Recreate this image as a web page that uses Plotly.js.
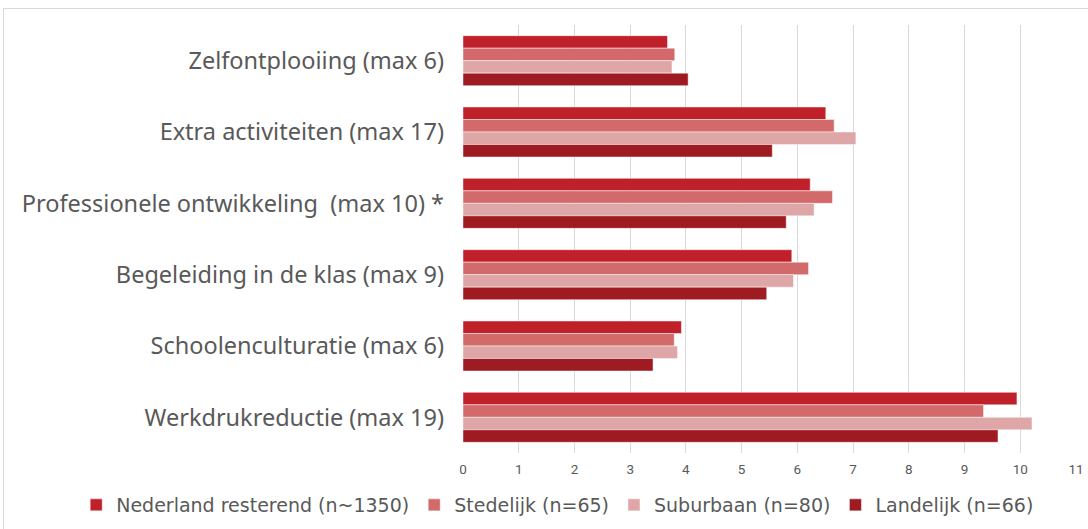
<!DOCTYPE html>
<html>
<head>
<meta charset="utf-8">
<script src="https://cdn.plot.ly/plotly-3.0.1.min.js"></script>
<style>
html,body{margin:0;padding:0;overflow:hidden;background:#fff;}
#chart{width:1088px;height:529px;position:absolute;left:0;top:0;}
#frame{position:absolute;left:3px;top:8px;width:1200px;height:700px;border:1px solid #d9d9d9;pointer-events:none;}
</style>
</head>
<body>
<div id="chart"></div>
<div id="frame"></div>
<script>
var categories = [
  "Zelfontplooiing (max 6)",
  "Extra activiteiten (max 17)",
  "Professionele ontwikkeling  (max 10) *",
  "Begeleiding in de klas (max 9)",
  "Schoolenculturatie (max 6)",
  "Werkdrukreductie (max 19)"
];
var seriesNames = ["Nederland resterend (n~1350)", "Stedelijk (n=65)", "Suburbaan (n=80)", "Landelijk (n=66)"];
var nederland = [3.67, 6.51, 6.23, 5.90, 3.92, 9.94];
var stedelijk = [3.80, 6.66, 6.63, 6.20, 3.79, 9.34];
var suburbaan = [3.75, 7.05, 6.30, 5.93, 3.85, 10.21];
var landelijk = [4.04, 5.55, 5.80, 5.45, 3.41, 9.60];
var tickValues = [0,1,2,3,4,5,6,7,8,9,10,11];

var colors = ["#C0202A", "#D26A6B", "#DEA6A6", "#9E1B22"];
var values = [nederland, stedelijk, suburbaan, landelijk];

var traces = values.map(function(v, i){
  return {
    type: "bar",
    orientation: "h",
    name: seriesNames[i],
    x: v,
    y: categories,
    marker: {color: colors[i], line: {color: "rgba(255,255,255,0.45)", width: 1}},
    hoverinfo: "x+name"
  };
});

var layout = {
  width: 1088,
  height: 529,
  margin: {l: 463, r: 12, t: 25, b: 76, autoexpand: false},
  paper_bgcolor: "rgba(0,0,0,0)",
  plot_bgcolor: "rgba(0,0,0,0)",
  barmode: "group",
  bargap: 0.3,
  bargroupgap: 0,
  showlegend: true,
  legend: {
    orientation: "h",
    x: -0.631, xanchor: "left",
    y: -0.1215, yanchor: "middle",
    font: {family: "DejaVu Sans, sans-serif", size: 19, color: "#595959"},
    traceorder: "normal",
    itemwidth: 30,
    tracegroupgap: 0
  },
  xaxis: {
    range: [0, 11],
    tickvals: tickValues,
    ticktext: tickValues.map(String),
    showgrid: true,
    gridcolor: "#d9d9d9",
    gridwidth: 1,
    zeroline: false,
    showline: false,
    ticks: "",
    ticklabelstandoff: 6,
    tickfont: {family: "Roboto, sans-serif", size: 13.5, color: "#595959"},
    fixedrange: true
  },
  yaxis: {
    autorange: "reversed",
    type: "category",
    showgrid: false,
    zeroline: false,
    showline: false,
    ticks: "",
    ticklabelstandoff: 18,
    tickfont: {family: "Noto Sans, sans-serif", size: 23.5, color: "#595959"},
    fixedrange: true
  },
  font: {family: "Noto Sans, sans-serif", color: "#595959"}
};

Plotly.newPlot("chart", traces, layout, {displayModeBar: false, staticPlot: true});
</script>
</body>
</html>
